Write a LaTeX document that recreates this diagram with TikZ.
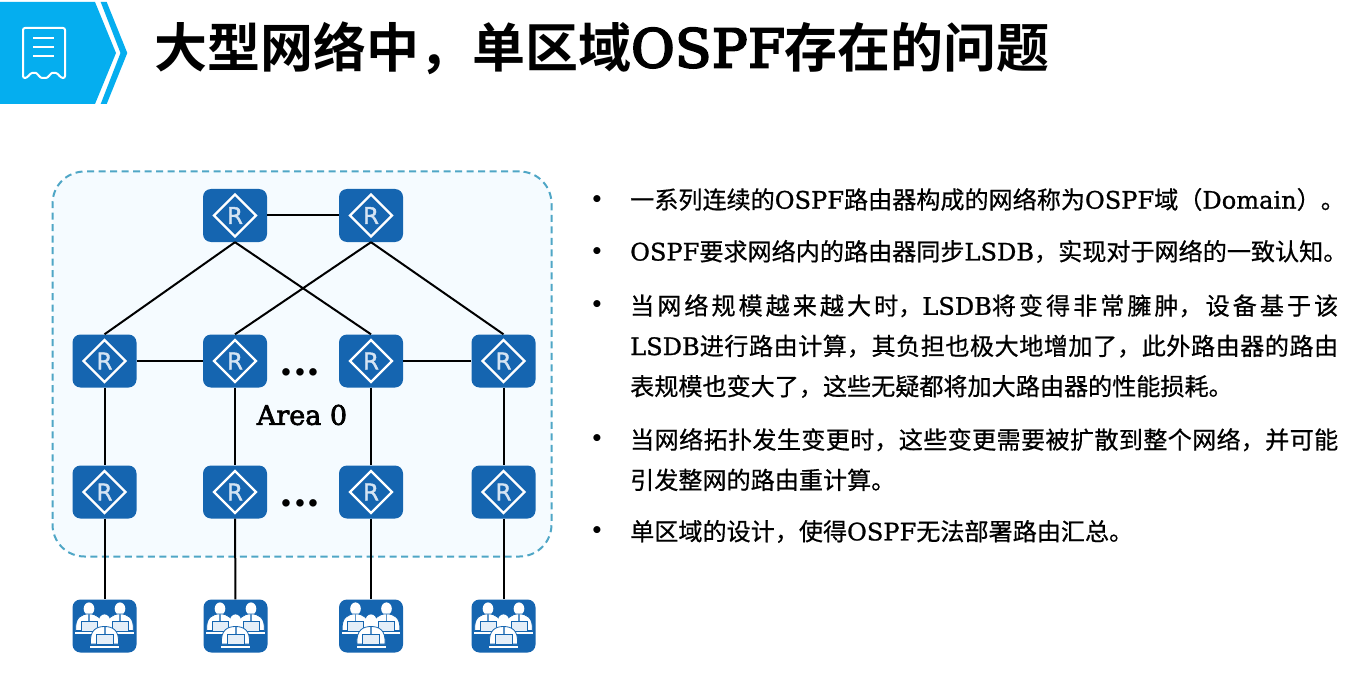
\documentclass[tikz,border=0pt]{standalone}
\usepackage{fontspec}
\setmainfont{DejaVu Serif}
\newfontfamily\cjk[FakeBold=0.6]{Noto Sans CJK SC}
\newfontfamily\cjkb{Noto Sans CJK SC Bold}
\newfontfamily\ltn[FakeBold=1]{DejaVu Serif}
\newfontfamily\ltnt[FakeBold=4,LetterSpace=1]{DejaVu Serif}
\newfontfamily\ltna[FakeBold=2.5]{DejaVu Serif}
\newfontfamily\ltnb{DejaVu Serif Bold}
\newfontfamily\sansf[FakeBold=1.5]{DejaVu Sans}
\definecolor{hwblue}{HTML}{1565B0}
\definecolor{cyanb}{HTML}{05AEEF}
\definecolor{areafill}{HTML}{F5FBFF}
\definecolor{areadash}{HTML}{4FA6C6}
\definecolor{lapcol}{HTML}{E4EEF8}
\definecolor{rcol}{HTML}{D5E4F3}
\newcommand{\La}[1]{{\ltn #1}}
\newcommand{\router}[1]{%
  \draw[white,line width=2.4pt] ([shift={(-21,0)}]#1.center) -- ([shift={(0,-21)}]#1.center) -- ([shift={(21,0)}]#1.center) -- ([shift={(0,21)}]#1.center) -- cycle;
  \node[rlabel] at (#1.center) {R};
}
\newcommand{\person}[2]{%
  \begin{scope}[shift={(#1)},scale=#2]
  \fill[white] (0,-14) ellipse (5.6 and 6.6);
  \filldraw[white,draw=hwblue,line width=0.8pt] (-14,9) .. controls (-15,-5) and (-8,-8.5) .. (0,-8.5) .. controls (8,-8.5) and (15,-5) .. (14,9) -- cycle;
  \fill[hwblue!70!white] (-1,-8) -- (1,-8) -- (1,-1) -- (-1,-1) -- cycle;
  \filldraw[lapcol,draw=hwblue,line width=0.7pt] (-8.5,-1) rectangle (8.5,9.5);
  \fill[white] (-14.5,11) rectangle (14.5,13);
  \end{scope}
}
\newcommand{\users}[1]{%
  \person{$(#1.center)+(-15.5,-4)$}{0.95}
  \person{$(#1.center)+(15.5,-4)$}{0.95}
  \person{$(#1.center)+(0,9)$}{1}
}
\usetikzlibrary{calc}
\tikzset{
  x=1pt,y=-1pt,
  devbox/.style={fill=hwblue,rounded corners=8pt,minimum width=64pt,minimum height=53pt,inner sep=0pt,draw=none},
  rlabel/.style={text=rcol,font=\sansf\fontsize{23}{23}\selectfont,inner sep=0pt},
  link/.style={draw=black,line width=2pt},
  bul/.style={anchor=center,inner sep=0pt,font=\ltnb\fontsize{20}{20}\selectfont,text=black},
  para/.style={anchor=north west,inner sep=0pt,text width=708pt,align=justify,text=black,font=\cjk\fontsize{24.1}{40.3}\selectfont},
  oneline/.style={anchor=west,inner sep=0pt,text=black,font=\cjk\fontsize{24.1}{40.3}\selectfont},
  dotsn/.style={inner sep=0pt,font=\ltnb\fontsize{40}{40}\selectfont},
}
\begin{document}
\begin{tikzpicture}
\XeTeXlinebreaklocale "zh"
\XeTeXlinebreakskip=0pt plus 2pt
\useasboundingbox (0,0) rectangle (1365,695);
\fill[white] (0,0) rectangle (1365,695);
% banner
\fill[cyanb] (0,2) -- (95,2) -- (116,53) -- (95,104) -- (0,104) -- cycle;
\fill[cyanb] (100.7,2) -- (106.7,2) -- (127.3,53) -- (106.7,104) -- (100.7,104) -- (120.5,53) -- cycle;
\draw[white,line width=2pt,rounded corners=2pt] (23,28) -- (65,28) -- (65,78) .. controls (60,78) and (58,73) .. (54,73) .. controls (51,73) and (48,78) .. (44,78) .. controls (40,78) and (37,73) .. (34,73) .. controls (30,73) and (28,78) .. (23,78) -- cycle;
\draw[white,line width=2pt] (33,38) -- (54,38) (33,47) -- (54,47) (33,56) -- (54,56);
\node[anchor=west,inner sep=0pt,text=black,font=\fontsize{53}{53}\selectfont] (title) at (154,48)
 {{\cjkb 大型网络中，单区域}{\ltnt OSPF}{\cjkb 存在的问题}};
% area
\node[draw=areadash,fill=areafill,line width=2pt,rounded corners=32pt,minimum width=499pt,minimum height=385pt,inner sep=0pt,dash pattern=on 7pt off 4.5pt] (area) at (302,364) {};
\node[devbox] (a1) at (235,215.5) {};
\node[devbox] (a2) at (371,215.5) {};
\node[devbox] (b1) at (104.5,361) {};
\node[devbox] (b2) at (235,361) {};
\node[devbox] (b3) at (371,361) {};
\node[devbox] (b4) at (503.5,361) {};
\node[devbox] (c1) at (104.5,492) {};
\node[devbox] (c2) at (235,492) {};
\node[devbox] (c3) at (371,492) {};
\node[devbox] (c4) at (503.5,492) {};
\node[devbox] (d1) at (104.5,626) {};
\node[devbox] (d2) at (235.5,626) {};
\node[devbox] (d3) at (371,626) {};
\node[devbox] (d4) at (503.5,626) {};
\draw[link] (a1) -- (a2);
\draw[link] (a1.south) -- (b1.north);
\draw[link] (a1.south) -- (b3.north);
\draw[link] (a2.south) -- (b2.north);
\draw[link] (a2.south) -- (b4.north);
\draw[link] (b1) -- (b2);
\draw[link] (b3) -- (b4);
\foreach \i in {1,2,3,4}{
  \draw[link] (b\i) -- (c\i);
  \draw[link] (c\i) -- (d\i);
}
\foreach \n in {a1,a2,b1,b2,b3,b4,c1,c2,c3,c4}{\router{\n}}
\foreach \n in {d1,d2,d3,d4}{\users{\n}}
\node[dotsn] (dotsa) at (300,372) {...};
\node[dotsn] (dotsb) at (300,503) {...};
\node[inner sep=0pt,font=\ltna\fontsize{27}{27}\selectfont] (areat) at (302,415) {Area 0};
% text
\node[bul] (b1t) at (597,201) {•};
\node[bul] (b2t) at (597,253) {•};
\node[bul] (b3t) at (597,306) {•};
\node[bul] (b4t) at (597,440) {•};
\node[bul] (b5t) at (597,532) {•};
\node[oneline] (p1) at (630,199.5) {一系列连续的\La{OSPF}路由器构成的网络称为\La{OSPF}域（\La{Domain}）。};
\node[oneline] (p2) at (630,251.5) {\La{OSPF}要求网络内的路由器同步\La{LSDB}，实现对于网络的一致认知。};
\node[para] (p3) at (630,294) {当网络规模越来越大时，\La{LSDB}将变得非常臃肿，设备基于该\linebreak \La{LSDB}进行路由计算，其负担也极大地增加了，此外路由器的路由\linebreak 表规模也变大了，这些无疑都将加大路由器的性能损耗。};
\node[para] (p4) at (630,428) {当网络拓扑发生变更时，这些变更需要被扩散到整个网络，并可能\linebreak 引发整网的路由重计算。};
\node[oneline] (p5) at (630,531.5) {单区域的设计，使得\La{OSPF}无法部署路由汇总。};
\end{tikzpicture}
\end{document}
